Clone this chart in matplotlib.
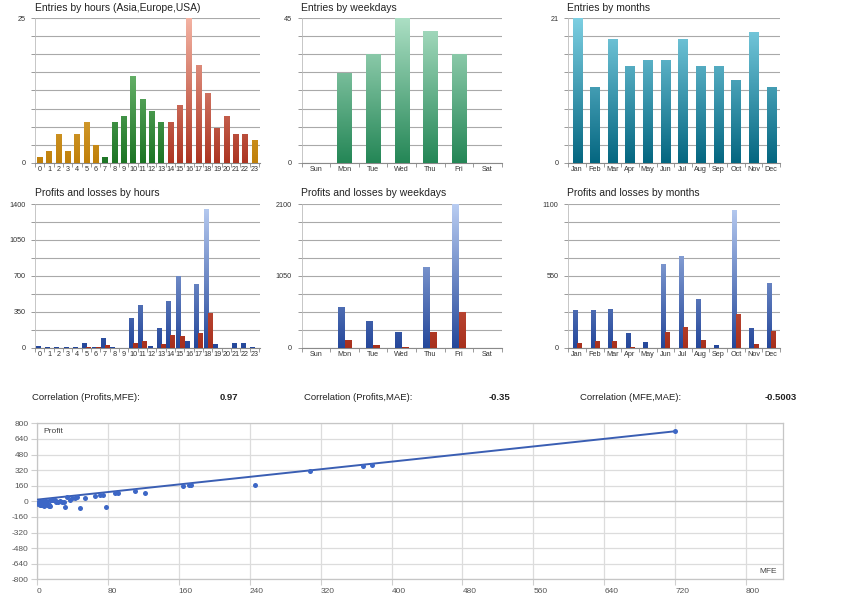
import numpy as np
import matplotlib
matplotlib.use('Agg')
import matplotlib.pyplot as plt
from matplotlib.colors import LinearSegmentedColormap
from matplotlib.ticker import FixedLocator

plt.rcParams['font.family'] = ['Liberation Sans', 'DejaVu Sans']
plt.rcParams['axes.unicode_minus'] = False

# ---------------- data ----------------
hours = [str(i) for i in range(24)]
hour_entries = [1, 2, 5, 2, 5, 7, 3, 1, 7, 8, 15, 11, 9, 7, 7, 10, 25, 17, 12, 6, 8, 5, 5, 4]
hour_session = ['asia'] * 7 + ['europe'] * 7 + ['usa'] * 9 + ['asia']

weekdays = ['Sun', 'Mon', 'Tue', 'Wed', 'Thu', 'Fri', 'Sat']
weekday_entries = [0, 28, 34, 45, 41, 34, 0]

months = ['Jan', 'Feb', 'Mar', 'Apr', 'May', 'Jun', 'Jul', 'Aug', 'Sep', 'Oct', 'Nov', 'Dec']
month_entries = [21, 11, 18, 14, 15, 15, 18, 14, 14, 12, 19, 11]

hour_profits = [20, 3, 6, 2, 2, 42, 2, 94, 10, 0, 292, 412, 16, 195, 458, 698, 68, 624, 1354, 39, 0, 49, 49, 10]
hour_losses = [0, 0, 0, 0, 0, 3, 3, 23, 0, 0, 49, 65, 0, 36, 123, 110, 0, 140, 341, 0, 0, 0, 0, 0]
weekday_profits = [0, 590, 395, 234, 1184, 2100, 0]
weekday_losses = [0, 112, 34, 10, 224, 516, 0]
month_profits = [288, 288, 299, 115, 43, 641, 699, 373, 18, 1054, 151, 493]
month_losses = [38, 48, 48, 5, 0, 117, 156, 59, 0, 258, 28, 130]

corr_labels = ['Correlation (Profits,MFE):', 'Correlation (Profits,MAE):', 'Correlation (MFE,MAE):']
corr_values = ['0.97', '-0.35', '-0.5003']

mfe = [720, 378, 368, 308, 246, 174, 171, 165, 122, 111, 91, 88, 78, 75, 71, 65, 54, 49,
       45, 43, 39, 37, 34, 32, 30, 24, 18, 15, 13, 15, 7, 3, 2,
       0, 1, 2, 3, 4, 5, 5, 6, 7, 8, 8, 9, 10, 11, 12, 13, 14, 16, 17, 20, 22, 26, 28, 10, 4, 6]
profit = [718, 376, 366, 308, 164, 171, 168, 160, 82, 109, 85, 82, -58, 68, 68, 58, 34, -72,
          41, 34, 34, 17, 41, -62, -7, -7, 17, 17, -34, -51, -34, -27, -7,
          -20, -25, -10, -35, -30, -15, -40, 5, -20, -45, -30, 0, -10, -40, -25, -50, -35, 10, 15, 15, -5, 0, -5, 5, -10, -40]
trend_slope = 0.974
trend_intercept = 17

# ---------------- figure ----------------
W, H = 843, 600
fig = plt.figure(figsize=(W / 100, H / 100), dpi=100)
fig.patch.set_facecolor('white')


def rect(l, t, r, b):
    return [l / W, 1 - b / H, (r - l) / W, (b - t) / H]


def ftext(x, y, s, **kw):
    fig.text(x / W, 1 - y / H, s, **kw)


GRID = '#a9a9a9'
AXC = '#8a8a8a'


def grad_bars(ax, x, h, width, c_bot, c_top, ymax):
    bars = ax.bar(x, h, width, color='none', edgecolor='none', zorder=3)
    cmap = LinearSegmentedColormap.from_list('g', [c_bot, c_top])
    grad = np.linspace(0, 1, 256).reshape(-1, 1)
    for b in bars:
        if b.get_height() <= 0:
            continue
        x0 = b.get_x()
        w = b.get_width()
        im = ax.imshow(grad, cmap=cmap, extent=(x0, x0 + w, 0, ymax), origin='lower',
                       aspect='auto', interpolation='bilinear', zorder=3)
        im.set_clip_path(b)
    return bars


def style_ax(ax, labels, ymax, ylabel_every, xlim):
    n = len(labels)
    ax.set_xlim(*xlim)
    ax.set_ylim(0, ymax)
    grid_vals = np.linspace(0, ymax, 9)
    ax.yaxis.set_minor_locator(FixedLocator(grid_vals))
    major = grid_vals[::ylabel_every]
    ax.set_yticks(major)
    ax.set_yticklabels(['%d' % round(v) for v in major])
    ax.grid(axis='y', which='both', color=GRID, lw=0.8, zorder=0)
    ax.set_axisbelow(True)
    ax.set_xticks(range(n))
    ax.set_xticklabels(labels)
    ax.xaxis.set_minor_locator(FixedLocator(np.arange(n + 1) - 0.5))
    ax.tick_params(axis='x', which='major', length=0, pad=2.5, labelsize=5.2, labelcolor='#333333')
    ax.tick_params(axis='x', which='minor', length=3, color=AXC, width=0.6)
    ax.tick_params(axis='y', which='both', length=3, color=AXC, width=0.6, labelsize=5.2,
                   pad=4, labelcolor='#333333')
    for s in ['top', 'right']:
        ax.spines[s].set_visible(False)
    ax.spines['left'].set_color('#bdbdbd')
    ax.spines['left'].set_linewidth(0.6)
    ax.spines['bottom'].set_color(AXC)
    ax.spines['bottom'].set_linewidth(0.8)


# ---- row 1: entries ----
sess_cols = {'asia': ('#c0800a', '#f9d27c'),
             'europe': ('#1c7424', '#93d693'),
             'usa': ('#ac3522', '#f4b3a3')}
ax1 = fig.add_axes(rect(35, 18.3, 260, 162.7))
for s, (cb, ct) in sess_cols.items():
    idx = [i for i, v in enumerate(hour_session) if v == s]
    grad_bars(ax1, idx, [hour_entries[i] for i in idx], 0.55, cb, ct, 25)
style_ax(ax1, hours, 25, 8, (-0.5, 23.6))

ax2 = fig.add_axes(rect(301.7, 18.3, 501.7, 162.7))
grad_bars(ax2, range(7), weekday_entries, 0.5, '#248656', '#acdfc4', 45)
style_ax(ax2, weekdays, 45, 8, (-0.5, 6.5))

ax3 = fig.add_axes(rect(568.3, 18.3, 780, 162.7))
grad_bars(ax3, range(12), month_entries, 0.52, '#046680', '#7dcfe2', 21)
style_ax(ax3, months, 21, 8, (-0.5, 11.5))

# ---- row 2: profits and losses ----
BLUE = ('#24479a', '#b9cdf2')
RED = ('#a8301c', '#e88070')
ax4 = fig.add_axes(rect(35, 204, 260, 347.7))
xh = np.arange(24)
grad_bars(ax4, xh - 0.22, hour_profits, 0.43, BLUE[0], BLUE[1], 1400)
grad_bars(ax4, xh + 0.22, hour_losses, 0.43, RED[0], RED[1], 1400)
style_ax(ax4, hours, 1400, 2, (-0.5, 23.6))

ax5 = fig.add_axes(rect(301.7, 204, 501.7, 347.7))
xw = np.arange(7)
grad_bars(ax5, xw - 0.12, weekday_profits, 0.24, BLUE[0], BLUE[1], 2100)
grad_bars(ax5, xw + 0.12, weekday_losses, 0.24, RED[0], RED[1], 2100)
style_ax(ax5, weekdays, 2100, 4, (-0.5, 6.5))

ax6 = fig.add_axes(rect(568.3, 204, 780, 347.7))
xm = np.arange(12)
grad_bars(ax6, xm - 0.12, month_profits, 0.24, BLUE[0], BLUE[1], 1100)
grad_bars(ax6, xm + 0.12, month_losses, 0.24, RED[0], RED[1], 1100)
style_ax(ax6, months, 1100, 4, (-0.5, 11.5))

# titles
tkw = dict(fontsize=7.5, color='#222222', va='center', ha='left')
ftext(35, 8, 'Entries by hours (Asia,Europe,USA)', **tkw)
ftext(300.7, 8, 'Entries by weekdays', **tkw)
ftext(567.3, 8, 'Entries by months', **tkw)
ftext(35, 193, 'Profits and losses by hours', **tkw)
ftext(300.7, 193, 'Profits and losses by weekdays', **tkw)
ftext(567.3, 193, 'Profits and losses by months', **tkw)

# correlation row
ckw = dict(fontsize=6.8, color='#222222', va='center',
           family=['Liberation Sans Narrow', 'Liberation Sans', 'DejaVu Sans'])
lab_x = [32, 304, 580]
val_x = [238, 510, 797]
for lx, vx, lab, val in zip(lab_x, val_x, corr_labels, corr_values):
    ftext(lx, 397, lab, ha='left', **ckw)
    ftext(vx, 397, val, ha='right', fontweight='bold', **ckw)

# ---- scatter ----
ax7 = fig.add_axes(rect(37, 423.3, 783.3, 579.3))
ax7.set_xlim(0, 842)
ax7.set_ylim(-800, 800)
ax7.set_xticks(np.arange(0, 801, 80))
ax7.set_yticks(np.arange(-800, 801, 160))
ax7.grid(True, color='#dcdcdc', lw=0.9, zorder=0)
ax7.axhline(0, color='#c4c4c4', lw=0.9, zorder=1)
ax7.set_axisbelow(True)
for s in ax7.spines.values():
    s.set_color('#c6c6c6')
    s.set_linewidth(0.9)
ax7.tick_params(axis='both', length=4, color='#cfcfcf', width=0.8, labelsize=6,
                labelcolor='#555555', pad=2)
for lbl in ax7.get_xticklabels():
    lbl.set_horizontalalignment('left')
xs = np.array([min(mfe), max(mfe)], dtype=float)
ax7.plot(xs, trend_slope * xs + trend_intercept, color='#3a5eb3', lw=1.4, zorder=3)
ax7.plot(mfe, profit, 'o', color='#3d67c6', ms=3.6, mec='none', zorder=4)
ax7.text(0.008, 0.945, 'Profit', transform=ax7.transAxes, fontsize=6, color='#444444', va='center')
ax7.text(0.992, 0.05, 'MFE', transform=ax7.transAxes, fontsize=6, color='#444444', va='center', ha='right')

fig.savefig('out.png', dpi=100, facecolor='white')
